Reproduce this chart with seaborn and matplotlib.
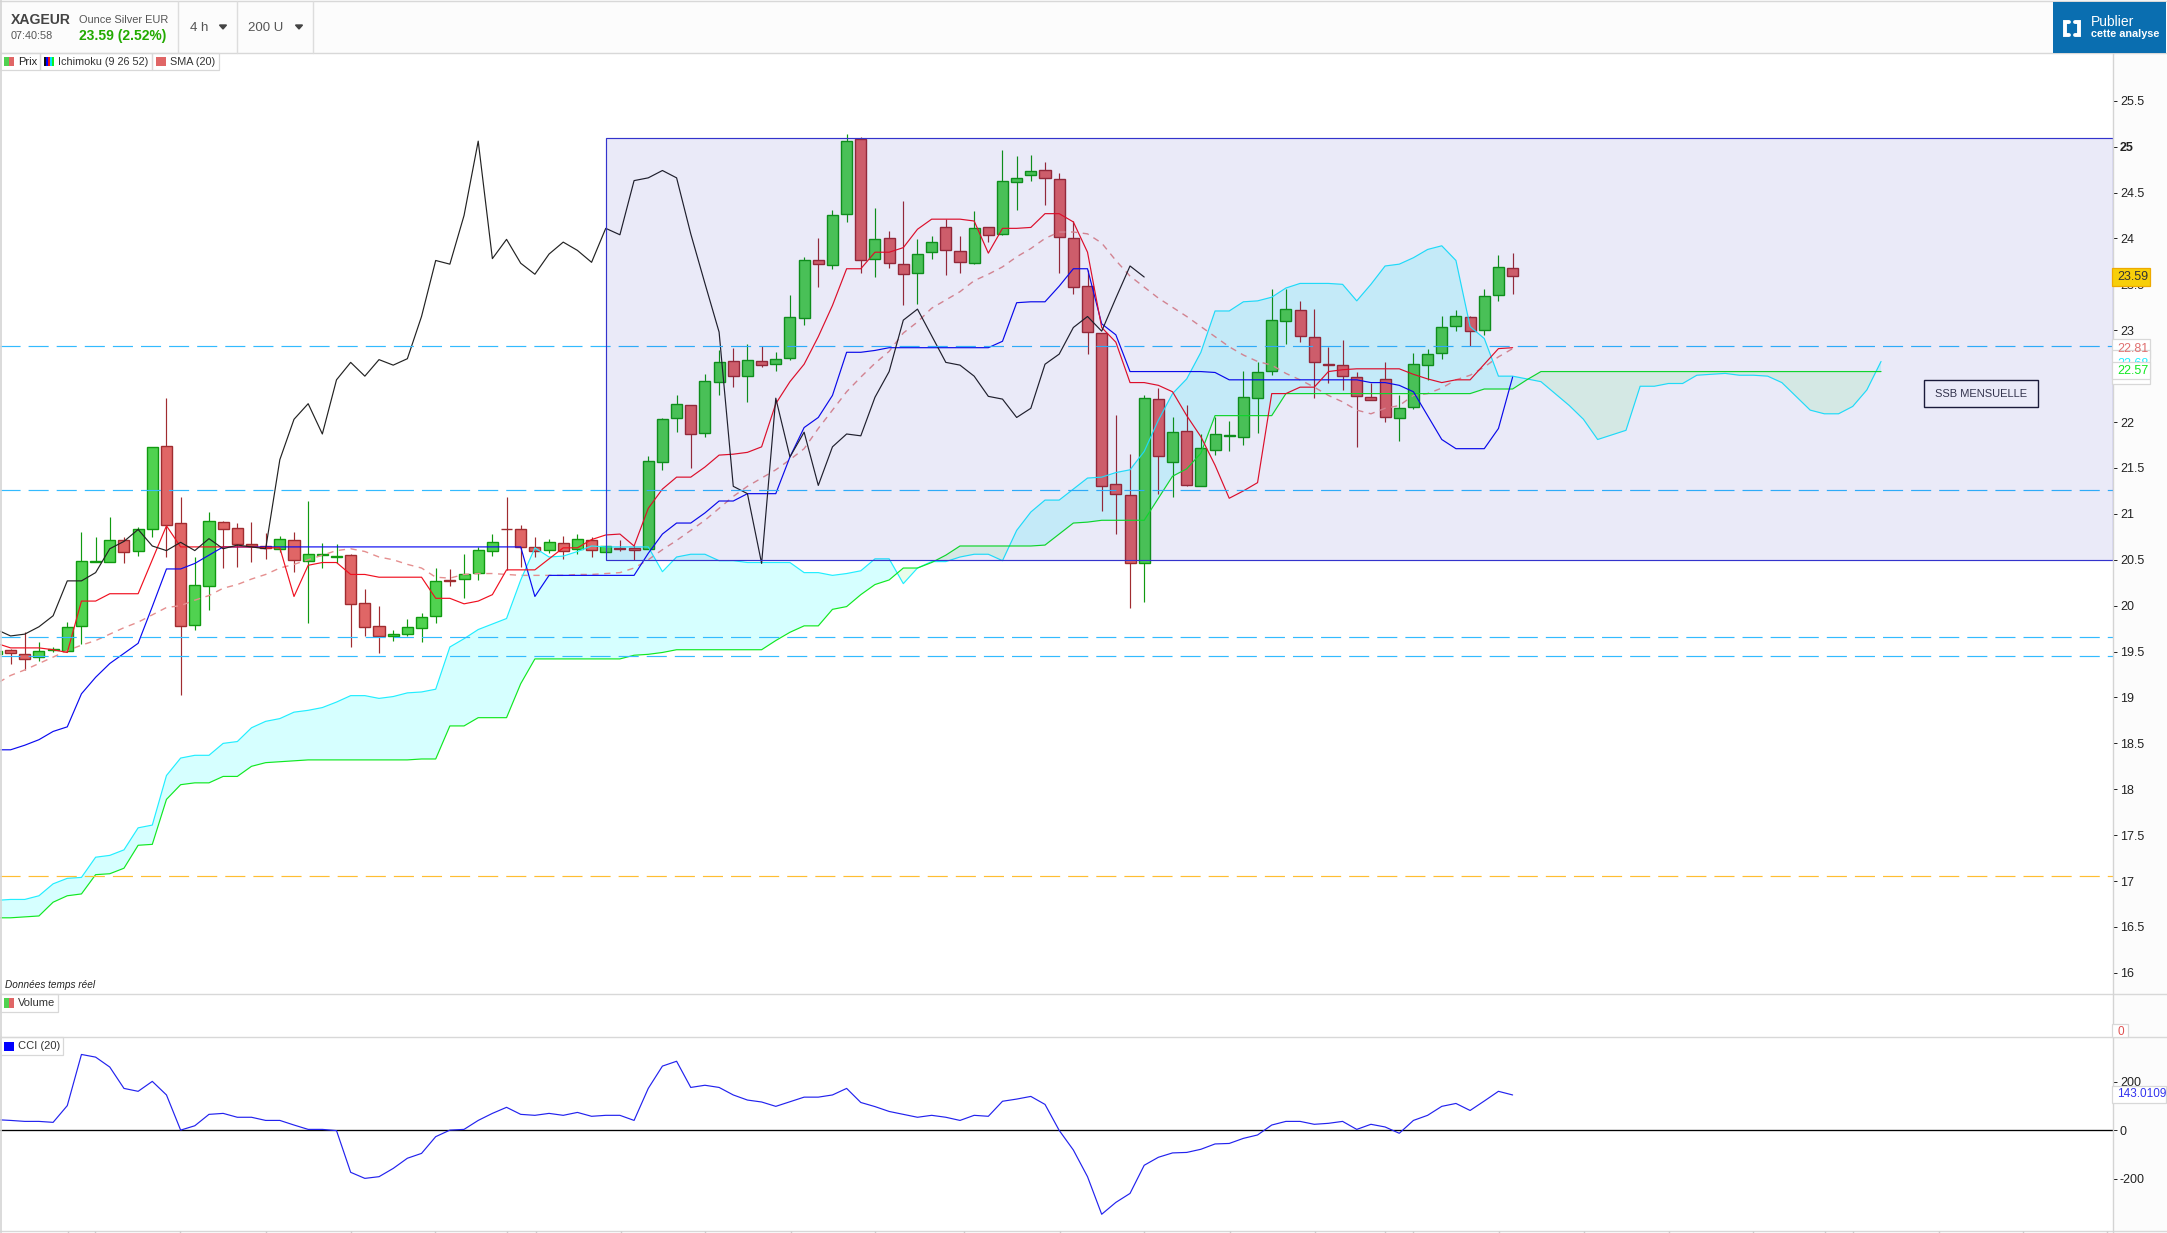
import numpy as np
import matplotlib
matplotlib.use('Agg')
import matplotlib.pyplot as plt
from matplotlib.patches import Rectangle
import seaborn as sns

# candles, one per 4h bar
opens = [19.47, 19.52, 19.47, 19.44, 19.52, 19.51, 19.78, 20.48, 20.48, 20.72,
         20.60, 20.83, 21.74, 20.90, 19.79, 20.21, 20.91, 20.85, 20.67, 20.65,
         20.62, 20.72, 20.49, 20.55, 20.53, 20.55, 20.03, 19.78, 19.67, 19.69,
         19.76, 19.89, 20.28, 20.29, 20.36, 20.60, 20.84, 20.84, 20.64, 20.61,
         20.68, 20.62, 20.72, 20.59, 20.63, 20.63, 20.62, 21.57, 22.04, 22.19,
         21.88, 22.44, 22.66, 22.50, 22.67, 22.63, 22.70, 23.13, 23.77, 23.71,
         24.27, 25.08, 23.78, 24.00, 23.72, 23.62, 23.85, 24.13, 23.86, 23.73,
         24.12, 24.05, 24.62, 24.69, 24.75, 24.65, 24.01, 23.48, 22.97, 21.32,
         21.21, 20.47, 22.25, 21.57, 21.90, 21.30, 21.70, 21.85, 21.84, 22.26,
         22.56, 23.10, 23.22, 22.93, 22.63, 22.62, 22.49, 22.27, 22.47, 22.04,
         22.16, 22.62, 22.75, 23.05, 23.14, 23.00, 23.38, 23.68]
closes = [19.51, 19.48, 19.42, 19.51, 19.53, 19.77, 20.49, 20.49, 20.71, 20.59,
          20.84, 21.73, 20.88, 19.78, 20.22, 20.92, 20.84, 20.67, 20.65, 20.63,
          20.73, 20.50, 20.56, 20.56, 20.54, 20.02, 19.77, 19.67, 19.69, 19.77,
          19.88, 20.27, 20.27, 20.35, 20.61, 20.69, 20.83, 20.64, 20.60, 20.69,
          20.60, 20.73, 20.61, 20.65, 20.62, 20.61, 21.58, 22.03, 22.20, 21.87,
          22.45, 22.65, 22.50, 22.68, 22.62, 22.69, 23.14, 23.76, 23.72, 24.26,
          25.06, 23.77, 23.99, 23.73, 23.61, 23.83, 23.96, 23.87, 23.74, 24.11,
          24.04, 24.63, 24.66, 24.74, 24.66, 24.02, 23.47, 22.98, 21.30, 21.22,
          20.46, 22.26, 21.63, 21.89, 21.31, 21.72, 21.87, 21.86, 22.27, 22.55,
          23.11, 23.23, 22.94, 22.65, 22.62, 22.50, 22.28, 22.24, 22.05, 22.15,
          22.63, 22.74, 23.03, 23.15, 22.99, 23.37, 23.69, 23.59]
highs = [19.51, 19.53, 19.71, 19.60, 19.55, 19.82, 20.80, 20.75, 20.97, 20.75,
         20.86, 21.73, 22.26, 21.18, 20.53, 21.02, 20.92, 20.90, 20.91, 20.79,
         20.76, 20.80, 21.14, 20.68, 20.67, 20.56, 20.18, 20.00, 19.74, 19.86,
         19.92, 20.41, 20.40, 20.56, 20.64, 20.78, 21.18, 20.88, 20.75, 20.73,
         20.76, 20.78, 20.75, 20.65, 20.72, 20.66, 21.63, 22.04, 22.30, 22.19,
         22.52, 22.78, 22.81, 22.85, 22.83, 22.76, 23.38, 23.80, 24.00, 24.31,
         25.14, 25.10, 24.33, 24.08, 24.41, 23.99, 24.03, 24.21, 24.03, 24.30,
         24.12, 24.96, 24.90, 24.91, 24.83, 24.71, 24.19, 23.66, 22.97, 22.08,
         21.65, 22.30, 22.37, 22.06, 22.19, 21.87, 22.06, 22.01, 22.56, 22.65,
         23.45, 23.45, 23.32, 23.23, 22.82, 22.89, 22.55, 22.43, 22.65, 22.30,
         22.75, 22.80, 23.15, 23.22, 23.16, 23.45, 23.82, 23.84]
lows = [19.47, 19.36, 19.30, 19.40, 19.49, 19.49, 19.58, 20.48, 20.48, 20.46,
        20.54, 20.75, 20.53, 19.03, 19.74, 19.95, 20.41, 20.42, 20.48, 20.51,
        20.59, 20.37, 19.81, 20.41, 20.47, 19.55, 19.67, 19.48, 19.61, 19.67,
        19.60, 19.81, 20.21, 20.08, 20.28, 20.54, 20.39, 20.42, 20.53, 20.57,
        20.51, 20.56, 20.53, 20.59, 20.60, 20.50, 20.62, 21.48, 21.89, 21.50,
        21.84, 22.29, 22.38, 22.22, 22.60, 22.56, 22.68, 23.06, 23.47, 23.67,
        24.18, 23.62, 23.58, 23.68, 23.28, 23.29, 23.78, 23.60, 23.62, 23.72,
        23.96, 24.04, 24.31, 24.63, 24.36, 23.62, 23.40, 22.74, 21.03, 20.78,
        19.98, 20.04, 21.22, 21.18, 21.30, 21.30, 21.64, 21.69, 21.75, 21.88,
        22.51, 22.85, 22.87, 22.26, 22.43, 22.35, 21.73, 22.24, 22.00, 21.79,
        22.14, 22.46, 22.69, 22.99, 22.83, 22.95, 23.32, 23.40]

tenkan = [19.59, 19.54, 19.54, 19.54, 19.52, 19.49, 20.05, 20.05, 20.13, 20.13,
          20.13, 20.50, 20.87, 20.64, 20.64, 20.64, 20.64, 20.64, 20.64, 20.63,
          20.63, 20.10, 20.44, 20.47, 20.47, 20.34, 20.34, 20.31, 20.31, 20.31,
          20.31, 20.08, 20.08, 20.02, 20.05, 20.12, 20.39, 20.39, 20.39, 20.51,
          20.63, 20.63, 20.72, 20.77, 20.78, 20.65, 21.06, 21.27, 21.40, 21.40,
          21.51, 21.64, 21.65, 21.67, 21.73, 22.20, 22.44, 22.63, 22.93, 23.27,
          23.67, 23.67, 23.85, 23.85, 23.90, 24.10, 24.21, 24.21, 24.21, 24.19,
          23.84, 24.11, 24.11, 24.12, 24.27, 24.27, 24.18, 23.85, 23.03, 22.87,
          22.43, 22.43, 22.40, 22.33, 22.07, 21.84, 21.53, 21.17, 21.25, 21.34,
          22.31, 22.31, 22.38, 22.38, 22.55, 22.57, 22.58, 22.58, 22.58, 22.58,
          22.52, 22.47, 22.43, 22.46, 22.46, 22.63, 22.80, 22.81]
kijun = [18.43, 18.43, 18.48, 18.54, 18.63, 18.68, 19.04, 19.22, 19.37, 19.48,
         19.59, 19.99, 20.40, 20.40, 20.46, 20.55, 20.64, 20.64, 20.64, 20.64,
         20.64, 20.64, 20.64, 20.64, 20.64, 20.64, 20.64, 20.64, 20.64, 20.64,
         20.64, 20.64, 20.64, 20.64, 20.64, 20.64, 20.64, 20.64, 20.10, 20.33,
         20.33, 20.33, 20.33, 20.33, 20.33, 20.33, 20.57, 20.78, 20.90, 20.90,
         21.01, 21.14, 21.14, 21.22, 21.22, 21.22, 21.62, 21.94, 22.05, 22.29,
         22.76, 22.76, 22.78, 22.81, 22.81, 22.81, 22.81, 22.81, 22.81, 22.81,
         22.81, 22.88, 23.30, 23.31, 23.31, 23.48, 23.67, 23.67, 23.07, 22.95,
         22.55, 22.55, 22.55, 22.55, 22.55, 22.55, 22.54, 22.46, 22.46, 22.46,
         22.46, 22.46, 22.46, 22.46, 22.46, 22.46, 22.46, 22.43, 22.43, 22.40,
         22.33, 22.07, 21.81, 21.71, 21.71, 21.71, 21.93, 22.49]
chikou = [19.74, 19.67, 19.69, 19.77, 19.89, 20.27, 20.27, 20.36, 20.62, 20.70,
          20.83, 20.65, 20.60, 20.69, 20.60, 20.73, 20.62, 20.66, 20.64, 20.62,
          21.59, 22.03, 22.20, 21.87, 22.46, 22.65, 22.50, 22.68, 22.62, 22.69,
          23.15, 23.76, 23.72, 24.25, 25.06, 23.78, 23.99, 23.73, 23.61, 23.83,
          23.96, 23.87, 23.74, 24.11, 24.04, 24.63, 24.66, 24.74, 24.66, 24.05,
          23.51, 22.98, 21.30, 21.22, 20.46, 22.26, 21.62, 21.89, 21.31, 21.73,
          21.87, 21.85, 22.27, 22.55, 23.11, 23.23, 22.94, 22.65, 22.62, 22.50,
          22.28, 22.25, 22.05, 22.15, 22.63, 22.74, 23.03, 23.15, 22.99, 23.35,
          23.70, 23.58]
sma20 = [19.15, 19.24, 19.30, 19.37, 19.44, 19.51, 19.57, 19.62, 19.69, 19.76,
         19.82, 19.90, 19.98, 20.00, 20.06, 20.11, 20.19, 20.23, 20.29, 20.34,
         20.41, 20.45, 20.50, 20.55, 20.60, 20.62, 20.59, 20.53, 20.50, 20.45,
         20.41, 20.31, 20.30, 20.34, 20.35, 20.35, 20.34, 20.33, 20.33, 20.33,
         20.33, 20.34, 20.34, 20.35, 20.36, 20.41, 20.50, 20.61, 20.71, 20.82,
         20.93, 21.06, 21.19, 21.30, 21.39, 21.48, 21.59, 21.71, 21.93, 22.13,
         22.33, 22.49, 22.64, 22.77, 22.97, 23.09, 23.24, 23.33, 23.42, 23.54,
         23.61, 23.69, 23.80, 23.89, 24.00, 24.07, 24.07, 24.05, 23.95, 23.76,
         23.59, 23.47, 23.35, 23.25, 23.15, 23.04, 22.93, 22.82, 22.73, 22.66,
         22.62, 22.53, 22.46, 22.38, 22.29, 22.22, 22.13, 22.09, 22.15, 22.18,
         22.29, 22.31, 22.37, 22.46, 22.51, 22.60, 22.71, 22.80]
# cloud runs 26 bars past the last candle
ssa = [16.79, 16.80, 16.80, 16.84, 16.97, 17.03, 17.04, 17.26, 17.28, 17.34,
       17.58, 17.61, 18.15, 18.34, 18.37, 18.37, 18.50, 18.52, 18.67, 18.74,
       18.77, 18.84, 18.86, 18.89, 18.95, 19.02, 19.02, 18.99, 19.01, 19.05,
       19.06, 19.09, 19.55, 19.64, 19.74, 19.80, 19.86, 20.28, 20.63, 20.53,
       20.54, 20.59, 20.65, 20.64, 20.64, 20.64, 20.64, 20.37, 20.53, 20.56,
       20.56, 20.49, 20.49, 20.47, 20.47, 20.47, 20.47, 20.36, 20.36, 20.33,
       20.35, 20.38, 20.51, 20.51, 20.24, 20.41, 20.48, 20.48, 20.53, 20.56,
       20.56, 20.49, 20.82, 21.02, 21.15, 21.15, 21.27, 21.39, 21.40, 21.45,
       21.48, 21.68, 22.02, 22.31, 22.47, 22.76, 23.21, 23.21, 23.31, 23.32,
       23.36, 23.46, 23.51, 23.51, 23.51, 23.50, 23.32, 23.50, 23.70, 23.72,
       23.79, 23.88, 23.92, 23.76, 23.04, 22.91, 22.50, 22.50, 22.47, 22.44,
       22.31, 22.18, 22.03, 21.81, 21.86, 21.91, 22.39, 22.39, 22.42, 22.42,
       22.51, 22.52, 22.53, 22.51, 22.51, 22.50, 22.43, 22.28, 22.13, 22.09,
       22.09, 22.17, 22.35, 22.66]
ssb = [16.60, 16.60, 16.61, 16.62, 16.77, 16.84, 16.86, 17.07, 17.08, 17.14,
       17.39, 17.40, 17.89, 18.05, 18.07, 18.07, 18.14, 18.14, 18.25, 18.29,
       18.30, 18.31, 18.32, 18.32, 18.32, 18.32, 18.32, 18.32, 18.32, 18.32,
       18.33, 18.33, 18.69, 18.69, 18.78, 18.78, 18.78, 19.15, 19.42, 19.42,
       19.42, 19.42, 19.42, 19.42, 19.42, 19.46, 19.47, 19.49, 19.52, 19.52,
       19.52, 19.52, 19.52, 19.52, 19.52, 19.62, 19.71, 19.78, 19.78, 19.96,
       19.99, 20.12, 20.23, 20.28, 20.41, 20.41, 20.47, 20.55, 20.65, 20.65,
       20.65, 20.65, 20.65, 20.65, 20.66, 20.78, 20.90, 20.91, 20.93, 20.93,
       20.93, 20.93, 21.17, 21.41, 21.49, 21.66, 22.07, 22.07, 22.07, 22.07,
       22.07, 22.31, 22.31, 22.31, 22.31, 22.31, 22.31, 22.31, 22.31, 22.31,
       22.31, 22.31, 22.31, 22.31, 22.31, 22.36, 22.36, 22.36, 22.46, 22.55,
       22.55, 22.55, 22.55, 22.55, 22.55, 22.55, 22.55, 22.55, 22.55, 22.55,
       22.55, 22.55, 22.55, 22.55, 22.55, 22.55, 22.55, 22.55, 22.55, 22.55,
       22.55, 22.55, 22.55, 22.55]
cci = [44, 41, 37, 37, 33, 102, 313, 302, 261, 173,
       161, 202, 146, 1, 19, 66, 70, 54, 54, 41,
       41, 22, 4, 4, -1, -173, -198, -191, -157, -115,
       -95, -26, 1, 4, 41, 70, 95, 66, 62, 70,
       62, 74, 58, 62, 62, 41, 173, 265, 285, 177,
       186, 177, 146, 125, 117, 99, 118, 137, 137, 146,
       173, 115, 98, 78, 66, 54, 62, 54, 41, 62,
       58, 120, 129, 140, 107, 0, -81, -191, -346, -297,
       -260, -144, -111, -93, -91, -78, -56, -54, -33, -19,
       22, 37, 37, 25, 29, 37, 4, 25, 14, -12,
       41, 62, 99, 111, 82, 121, 161, 146]

# horizontal levels drawn on the chart
blue_levels = [22.83, 21.26, 19.66, 19.45]
orange_level = 17.06
box_top, box_bottom = 25.09, 20.5
box_start = 42
price_ticks = [16, 16.5, 17, 17.5, 18, 18.5, 19, 19.5, 20, 20.5, 21, 21.5,
               22, 22.5, 23, 23.5, 24, 24.5, 25, 25.5]
cci_ticks = [-200, 0, 200]

W, H = 2167, 1233
PRICE_LIM = (15.77, 26.02)
CCI_LIM = (-415, 385)
X_LIM = (-0.748, 148.37)
GREEN, GREEN_EDGE = '#50d250', '#109a10'
RED, RED_EDGE = '#e06666', '#a02c30'

sns.set_theme(style='white')
plt.rcParams['font.family'] = ['Liberation Sans', 'DejaVu Sans']


def add_panel(left, top, right, bottom, z):
    ax = fig.add_axes([left / W, 1 - bottom / H, (right - left) / W, (bottom - top) / H])
    ax.set_zorder(z)
    ax.patch.set_alpha(0)
    return ax


def draw_line(ax, values, color, lw=0.85, z=4, ls='-'):
    xs = np.arange(len(values)) - 1
    sns.lineplot(x=xs, y=values, ax=ax, color=color, linewidth=lw, linestyle=ls,
                 estimator=None, errorbar=None, zorder=z)


def style_panel(ax, ticks, labels, ylim):
    ax.set_xlim(X_LIM)
    ax.set_ylim(ylim)
    ax.set_xticks([])
    ax.set_xlabel('')
    ax.set_ylabel('')
    ax.yaxis.tick_right()
    ax.set_yticks(ticks)
    ax.set_yticklabels(labels)
    ax.tick_params(axis='y', length=3, width=0.7, color='#222222', pad=2,
                   labelsize=9, labelcolor='#222222', right=True)
    for s in ax.spines.values():
        s.set_visible(False)


fig = plt.figure(figsize=(W / 100, H / 100), dpi=100, facecolor='white')

# chrome behind the panels
bg = add_panel(0, 0, W, H, 0)
bg.set_xlim(0, W)
bg.set_ylim(H, 0)
bg.axis('off')
bg.add_patch(Rectangle((0, 0), W, 53, fc='#fcfcfc', ec='none'))
bg.add_patch(Rectangle((2113, 53), W - 2113, H - 53, fc='#fcfcfc', ec='none'))

# price panel
ax = add_panel(0, 53, 2113, 994, 1)
xs_cloud = np.arange(len(ssa)) - 1
a_arr, b_arr = np.array(ssa), np.array(ssb)
ax.fill_between(xs_cloud, a_arr, b_arr, where=a_arr >= b_arr, interpolate=True,
                color='#d6ffff', lw=0, zorder=1)
ax.fill_between(xs_cloud, a_arr, b_arr, where=a_arr <= b_arr, interpolate=True,
                color='#e8fdea', lw=0, zorder=1)

xs = np.arange(len(opens)) - 1
o_arr, c_arr = np.array(opens), np.array(closes)
up = c_arr >= o_arr
wick_colors = [GREEN_EDGE if u else RED_EDGE for u in up]
ax.vlines(xs, lows, highs, colors=wick_colors, lw=0.85, zorder=2)
ax.bar(xs, np.abs(c_arr - o_arr), bottom=np.minimum(o_arr, c_arr), width=0.78,
       color=[GREEN if u else RED for u in up], edgecolor=wick_colors, linewidth=1.0, zorder=3)

draw_line(ax, sma20, '#e58f8f', lw=1.0, ls=(0, (4.5, 4)))
draw_line(ax, ssa, '#22eeff')
draw_line(ax, ssb, '#11e822')
draw_line(ax, kijun, '#0a0af0')
draw_line(ax, tenkan, '#f01020')
draw_line(ax, chikou, '#222222')

for lvl in blue_levels:
    ax.axhline(lvl, color='#33bbff', lw=0.85, ls=(0, (17, 6.8)), zorder=5)
ax.axhline(orange_level, color='#ffbe33', lw=0.85, ls=(0, (17, 6.8)), zorder=5)

# rectangle zone, tints whatever is under it
ax.add_patch(Rectangle((box_start, box_bottom), X_LIM[1] - box_start, box_top - box_bottom,
                       fc='#0000aa', alpha=0.082, ec='none', zorder=8))
ax.add_patch(Rectangle((box_start, box_bottom), X_LIM[1] - box_start, box_top - box_bottom,
                       fc='none', ec='#3333cc', lw=0.85, zorder=9))
style_panel(ax, price_ticks, ['%g' % t for t in price_ticks], PRICE_LIM)
for t, lab in zip(price_ticks, ax.get_yticklabels()):
    if t == 25:
        lab.set_fontweight('bold')

# empty volume panel
ax_vol = add_panel(0, 994, 2113, 1037, 1)
ax_vol.axis('off')

# CCI panel
ax_cci = add_panel(0, 1037, 2113, 1231, 1)
ax_cci.axhline(0, color='black', lw=0.95, zorder=3)
draw_line(ax_cci, cci, '#2222ee')
style_panel(ax_cci, cci_ticks, ['%d' % t for t in cci_ticks], CCI_LIM)

# chrome in front: text, borders, tags
top = add_panel(0, 0, W, H, 5)
top.set_xlim(0, W)
top.set_ylim(H, 0)
top.axis('off')


def box(x0, y0, x1, y1, fc='none', ec='#d8d8d8', lw=0.9, z=2):
    top.add_patch(Rectangle((x0, y0), x1 - x0, y1 - y0, fc=fc, ec=ec, lw=lw, zorder=z))


def label(x, y, s, size=8, color='#333333', z=6, **kw):
    kw.setdefault('va', 'center')
    top.text(x, y, s, fontsize=size, color=color, zorder=z, **kw)


for y in (1, 53, 994, 1037, 1231):
    top.plot([0, W], [y, y], color='#d8d8d8', lw=1.0, zorder=1)
top.plot([2113, 2113], [53, H], color='#d4d4d4', lw=1.0, zorder=1)
top.plot([1, 1], [0, H], color='#d4d4d4', lw=1.2, zorder=1)
for x in (178, 237, 313):
    top.plot([x, x], [1, 53], color='#dddddd', lw=1.0, zorder=1)

label(11, 20, 'XAGEUR', size=10.1, color='#444444', fontweight='bold')
label(11, 36, '07:40:58', size=7.8, color='#555555')
label(79, 20, 'Ounce Silver EUR', size=7.9, color='#555555')
label(79, 36, '23.59 (2.52%)', size=10, color='#22aa00', fontweight='bold')
label(190, 28, '4 h', size=9.5, color='#555555')
label(248, 28, '200 U', size=9.5, color='#555555')
for x in (223, 299):
    top.fill([x - 3.5, x + 3.5, x], [25, 25, 29], color='#444444', zorder=6)

# legend strip
box(0, 53, 40, 70)
box(40, 53, 152, 70)
box(152, 53, 219, 70)
box(4, 57, 9, 66, fc=GREEN, ec='none')
box(9, 57, 14, 66, fc=RED, ec='none')
for i, c in enumerate(['#111111', '#0000ff', '#ee1111', '#00e5ff', '#11ee22']):
    box(44 + i * 2, 57, 46 + i * 2, 66, fc=c, ec='none')
box(156, 57, 166, 66, fc=RED, ec='none')
label(18, 62, 'Prix', size=8, color='#222222')
label(58, 62, 'Ichimoku (9 26 52)', size=7.8)
label(170, 62, 'SMA (20)', size=7.8)

label(5, 985, 'Données temps réel', size=7.2, color='#222222', style='italic')
box(0, 994, 58, 1012)
box(4, 998, 9, 1008, fc=GREEN, ec='none')
box(9, 998, 14, 1008, fc=RED, ec='none')
label(18, 1003, 'Volume', size=8)
box(0, 1037, 63, 1055)
box(4, 1042, 14, 1051, fc='#0000ff', ec='none')
label(18, 1046, 'CCI (20)', size=8)

# publish button
box(2053, 2, 2166, 53, fc='#0a6eb0', ec='none')
top.plot([2069, 2065, 2065, 2069], [21.5, 21.5, 35, 35], color='white', lw=2.8, zorder=6,
         solid_joinstyle='miter')
top.plot([2075, 2079, 2079, 2075], [21.5, 21.5, 35, 35], color='white', lw=2.8, zorder=6,
         solid_joinstyle='miter')
label(2091, 22, 'Publier', size=10, color='white')
label(2091, 34, 'cette analyse', size=7.8, color='white', fontweight='bold')

# last value tags, stacked the way the platform stacks them
box(2112, 339, 2150, 358, fc='white')
box(2112, 350, 2150, 384, fc='white')
label(2117, 349, '22.81', size=9, color='#e07070')
label(2117, 364, '22.68', size=9, color='#22eeff')
box(2112, 362, 2150, 379, fc='white', z=7)
label(2117, 371, '22.57', size=9, color='#11e822', z=8)
box(2112, 268, 2150, 286, fc='#f7cf0a', ec='#eeaa00', z=7)
label(2117, 277, '23.59', size=9, color='#333333', z=8)

# annotation
box(1924, 380, 2038, 407, ec='#1a1a3a', lw=1.0)
label(1981, 394, 'SSB MENSUELLE', size=8, color='#33334d', ha='center')

# CCI and volume tags
box(2112, 1024, 2128, 1037, fc='white')
label(2117, 1032, '0', size=8.5, color='#e05050')
box(2112, 1086, 2166, 1103, fc='white')
label(2117, 1094, '143.01096', size=8.5, color='#3333ee', clip_on=True)

# time ticks along the bottom edge
time_ticks = [68, 95, 180, 266, 351, 435, 507, 536, 621, 705, 791, 875, 964, 1060, 1144,
              1230, 1315, 1385, 1413, 1499, 1584, 1669, 1753, 1825, 1853, 1939, 2023, 2107]
top.vlines(time_ticks, 1231, 1233, color='#cccccc', lw=1.0)

fig.savefig('out.png', dpi=100)
